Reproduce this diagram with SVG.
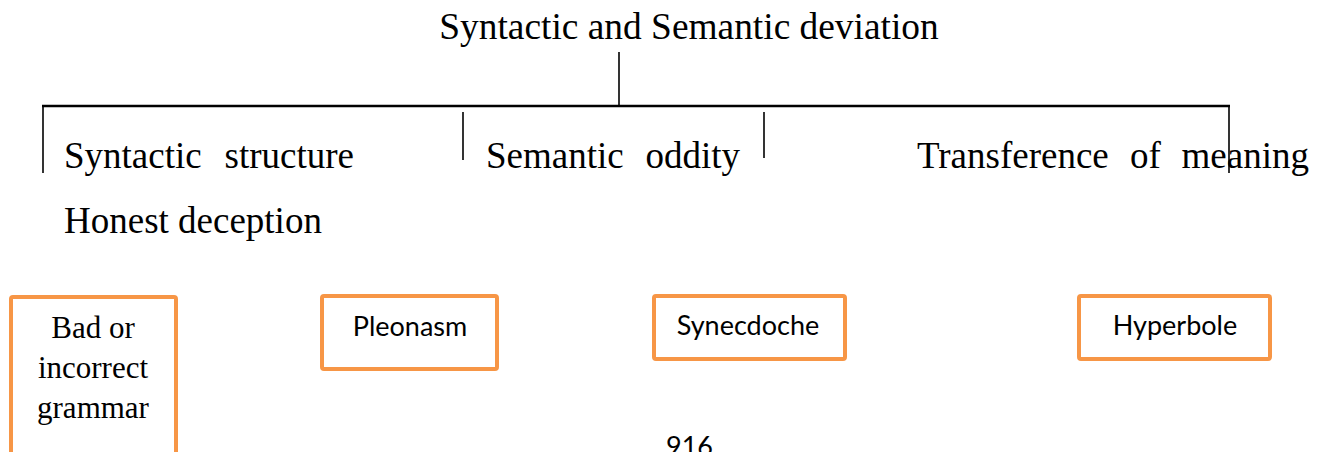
<svg xmlns="http://www.w3.org/2000/svg" width="1323" height="452" viewBox="0 0 1323 452">
<style>
.serif{font-family:"Liberation Serif","Times New Roman",serif;fill:#000}
.big{font-size:37px}
.box{fill:#fff;stroke:#F79646;stroke-width:4}
.sans{font-family:Lato,"Noto Sans","Liberation Sans",sans-serif;font-size:27px;fill:#000}
.ln{stroke:#000;stroke-width:1.6;fill:none}
.hl{stroke:#000;stroke-width:2.6;fill:none}
</style>
<rect width="1323" height="452" fill="#fff"/>
<g id="connectors">
<line class="ln" x1="619" y1="52" x2="619" y2="106"/>
<line class="hl" x1="42" y1="106" x2="1230" y2="106"/>
<line class="ln" x1="43" y1="106" x2="43" y2="173"/>
<line class="ln" x1="463" y1="112" x2="463" y2="160"/>
<line class="ln" x1="764" y1="112" x2="764" y2="158"/>
<line class="ln" x1="1229" y1="106" x2="1229" y2="173"/>
</g>
<g id="title">
<text class="serif" font-size="37.4" x="689" y="39" text-anchor="middle">Syntactic and Semantic deviation</text>
</g>
<g id="syntactic-structure">
<text class="serif big" x="64" y="168">Syntactic</text>
<text class="serif big" x="354" y="168" text-anchor="end">structure</text>
</g>
<g id="semantic-oddity">
<text class="serif big" x="486" y="168">Semantic</text>
<text class="serif big" x="740" y="168" text-anchor="end">oddity</text>
</g>
<g id="transference-of-meaning">
<text class="serif big" x="917" y="168">Transference</text>
<text class="serif big" x="1130" y="168">of</text>
<text class="serif big" x="1309" y="168" text-anchor="end">meaning</text>
</g>
<g id="honest-deception">
<text class="serif big" x="64" y="233">Honest deception</text>
</g>
<g id="bad-grammar">
<rect class="box" x="11" y="297" width="165" height="175" rx="2"/>
<text class="serif" font-size="31" text-anchor="middle" x="93" y="338">Bad or</text>
<text class="serif" font-size="31" text-anchor="middle" x="93" y="378">incorrect</text>
<text class="serif" font-size="31" text-anchor="middle" x="93" y="418">grammar</text>
</g>
<g id="pleonasm">
<rect class="box" x="322" y="296" width="175" height="73" rx="2"/>
<text class="sans" x="410" y="336" text-anchor="middle">Pleonasm</text>
</g>
<g id="synecdoche">
<rect class="box" x="654" y="296" width="191" height="63" rx="2"/>
<text class="sans" x="748" y="335" text-anchor="middle">Synecdoche</text>
</g>
<g id="hyperbole">
<rect class="box" x="1079" y="296" width="191" height="63" rx="2"/>
<text class="sans" x="1175" y="335" text-anchor="middle">Hyperbole</text>
</g>
<g id="page-number">
<text class="sans" font-size="25" x="666" y="456">916</text>
</g>
</svg>
